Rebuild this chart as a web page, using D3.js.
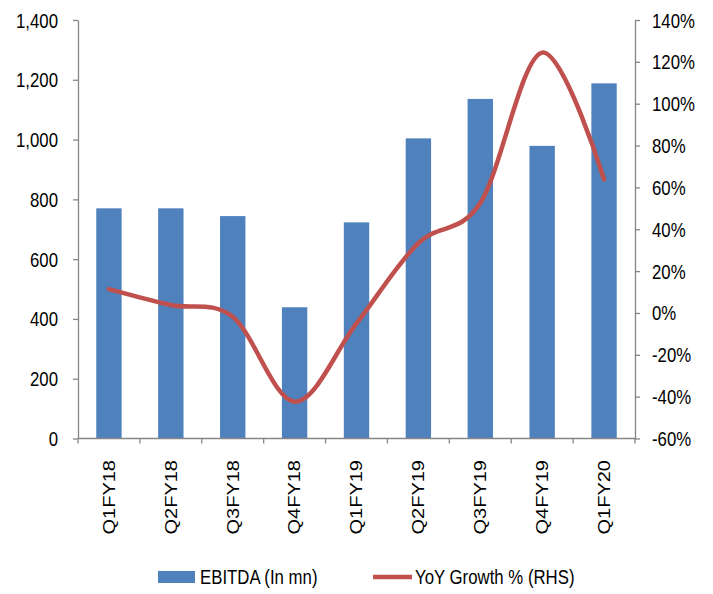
<!DOCTYPE html>
<html>
<head>
<meta charset="utf-8">
<script src="https://cdn.jsdelivr.net/npm/d3@7"></script>
<style>
  html, body { margin: 0; padding: 0; background: #fff; }
  svg { display: block; }
  text { font-family: "Liberation Sans", Arial, sans-serif; fill: #000; }
</style>
</head>
<body>
<svg id="chart" width="713" height="594"></svg>
<script>
// Quarterly EBITDA (in mn) and YoY growth (%, right-hand scale)
const quarters = ["Q1FY18", "Q2FY18", "Q3FY18", "Q4FY18", "Q1FY19", "Q2FY19", "Q3FY19", "Q4FY19", "Q1FY20"];
const ebitda = [770, 770, 744, 439, 723, 1004, 1136, 979, 1188];
const yoyGrowth = [11.4, 3.8, -1.8, -42.4, -5, 33.4, 52.5, 124.4, 63.9];
const leftTicks = [0, 200, 400, 600, 800, 1000, 1200, 1400];
const rightTicks = [-60, -40, -20, 0, 20, 40, 60, 80, 100, 120, 140];
const seriesNames = ["EBITDA (In mn)", "YoY Growth % (RHS)"];

const barColor = "#4F81BD";
const lineColor = "#C0504D";
const axisColor = "#868686";
const fontSize = 20;
const squeeze = 0.84; // narrow glyph width

const svg = d3.select("#chart");
const plot = { left: 78, right: 635, top: 20, bottom: 438.5 };

const x = d3.scaleBand()
  .domain(quarters)
  .range([plot.left, plot.right])
  .paddingInner(0.59)
  .paddingOuter(0.295);

const yLeft = d3.scaleLinear().domain([0, 1400]).range([plot.bottom, plot.top]);
const yRight = d3.scaleLinear().domain([-60, 140]).range([plot.bottom, plot.top]);

// Bars
svg.append("g")
  .selectAll("rect")
  .data(quarters)
  .join("rect")
  .attr("x", d => x(d))
  .attr("width", x.bandwidth())
  .attr("y", (d, i) => yLeft(ebitda[i]))
  .attr("height", (d, i) => yLeft(0) - yLeft(ebitda[i]))
  .attr("fill", barColor);

// Smoothed growth line
const line = d3.line()
  .x((d, i) => x(quarters[i]) + x.bandwidth() / 2)
  .y(d => yRight(d))
  .curve(d3.curveCardinal.tension(0));

svg.append("path")
  .datum(yoyGrowth)
  .attr("d", line)
  .attr("fill", "none")
  .attr("stroke", lineColor)
  .attr("stroke-width", 4.5)
  .attr("stroke-linecap", "round")
  .attr("stroke-linejoin", "round");

function styleAxis(g) {
  g.selectAll("path, line").attr("stroke", axisColor).attr("stroke-width", 1.3);
  g.selectAll("text").attr("font-size", fontSize).attr("font-family", "Liberation Sans, Arial, sans-serif").attr("fill", "#000");
}

// Left axis
const gLeft = svg.append("g")
  .attr("transform", `translate(${plot.left},0)`)
  .call(d3.axisLeft(yLeft).tickValues(leftTicks).tickSize(5).tickSizeOuter(0).tickFormat(d3.format(",")));
styleAxis(gLeft);
gLeft.selectAll(".tick text")
  .attr("x", null).attr("dy", "0.35em")
  .attr("transform", `translate(-20,0) scale(${squeeze},1)`);

// Right axis
const gRight = svg.append("g")
  .attr("transform", `translate(${plot.right},0)`)
  .call(d3.axisRight(yRight).tickValues(rightTicks).tickSize(5).tickSizeOuter(0).tickFormat(d => d + "%"));
styleAxis(gRight);
gRight.selectAll(".tick text")
  .attr("x", null).attr("dy", "0.35em")
  .attr("transform", `translate(17,0) scale(${squeeze},1)`);

// Bottom axis: ticks at category boundaries
const gBottom = svg.append("g").attr("transform", `translate(0,${plot.bottom})`);
gBottom.append("line")
  .attr("x1", plot.left).attr("x2", plot.right)
  .attr("stroke", axisColor).attr("stroke-width", 1.3);
const step = x.step();
gBottom.selectAll("line.tick")
  .data(d3.range(quarters.length + 1))
  .join("line")
  .attr("class", "tick")
  .attr("x1", i => plot.left + i * step).attr("x2", i => plot.left + i * step)
  .attr("y1", 0).attr("y2", 5)
  .attr("stroke", axisColor).attr("stroke-width", 1.3);

svg.append("g")
  .selectAll("text")
  .data(quarters)
  .join("text")
  .attr("text-anchor", "end")
  .attr("dy", "0.35em")
  .attr("font-size", fontSize)
  .attr("transform", d => `translate(${x(d) + x.bandwidth() / 2},460) rotate(-90) scale(1,${squeeze})`)
  .text(d => d);

// Legend
const legend = svg.append("g");
legend.append("rect")
  .attr("x", 158).attr("y", 571).attr("width", 37).attr("height", 12)
  .attr("fill", barColor);
legend.append("text")
  .attr("font-size", fontSize)
  .attr("transform", `translate(200,584) scale(${squeeze},1)`)
  .text(seriesNames[0]);
legend.append("line")
  .attr("x1", 373).attr("x2", 412).attr("y1", 577).attr("y2", 577)
  .attr("stroke", lineColor).attr("stroke-width", 4.5);
legend.append("text")
  .attr("font-size", fontSize)
  .attr("transform", `translate(415,584) scale(${squeeze},1)`)
  .text(seriesNames[1]);
</script>
</body>
</html>
